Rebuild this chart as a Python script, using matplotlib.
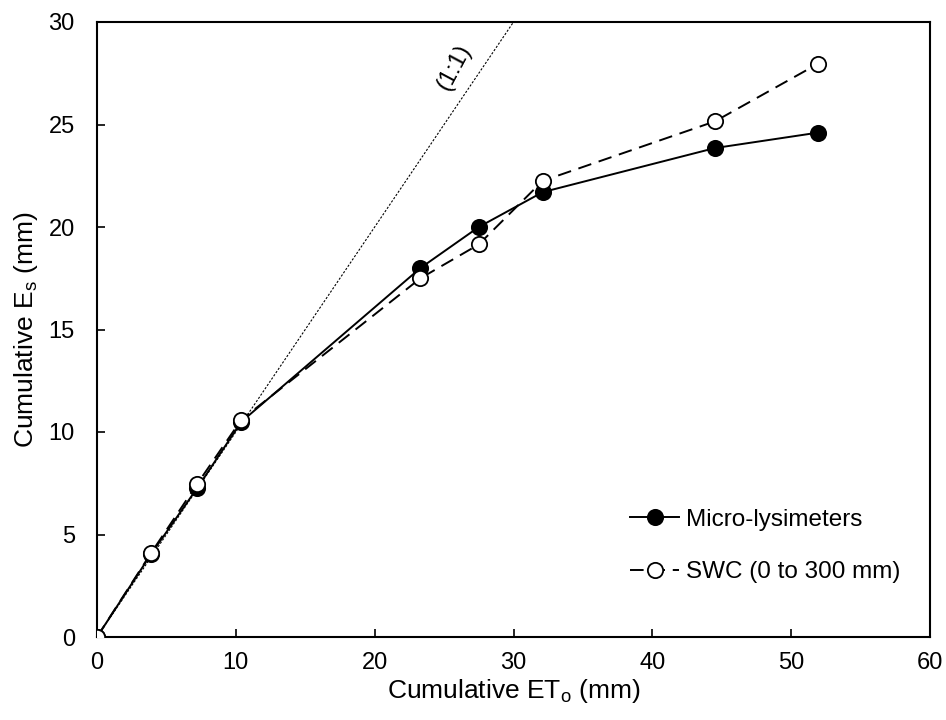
import matplotlib
matplotlib.use("Agg")
import matplotlib.pyplot as plt

plt.rcParams['font.family'] = ['Liberation Sans', 'DejaVu Sans']
plt.rcParams['mathtext.fontset'] = 'custom'
plt.rcParams['mathtext.rm'] = 'Liberation Sans'

eto = [0, 3.9, 7.2, 10.4, 23.3, 27.5, 32.1, 44.5, 51.9]
micro = [0, 4.05, 7.25, 10.5, 18.0, 20.0, 21.7, 23.85, 24.6]
swc = [0, 4.1, 7.45, 10.6, 17.5, 19.15, 22.25, 25.15, 27.95]
one_to_one = [0, 30]

fig = plt.figure(figsize=(9.46, 7.2), dpi=100)
ax = fig.add_axes([97/946, 83/720, (930-97)/946, (637-22)/720])

ax.plot(one_to_one, one_to_one, color='black', lw=0.8, ls=(0, (2, 1.5)), zorder=1)
ax.plot(eto, micro, color='black', lw=1.4, marker='o', ms=11,
        mfc='black', mec='black', mew=1.3, label='Micro-lysimeters', zorder=3)
ax.plot(eto, swc, color='black', lw=1.4, ls=(0, (7, 4)), marker='o', ms=11,
        mfc='white', mec='black', mew=1.3, label='SWC (0 to 300 mm)', zorder=4)

ax.text(25.7, 27.8, '(1:1)', rotation=62, fontsize=17, ha='center', va='center')

ax.set_xlim(0, 60)
ax.set_ylim(0, 30)
ax.set_xticks(range(0, 61, 10))
ax.set_yticks(range(0, 31, 5))
ax.tick_params(direction='in', length=6, width=1.2, labelsize=17)
ax.tick_params(axis='x', pad=11)
ax.tick_params(axis='y', pad=16)
for s in ax.spines.values():
    s.set_linewidth(1.5)
ax.set_xlabel('Cumulative ET$_\\mathregular{o}$ (mm)', fontsize=19, labelpad=2)
ax.set_ylabel('Cumulative E$_\\mathregular{s}$ (mm)', fontsize=19, labelpad=6)

leg = ax.legend(loc='upper left', bbox_to_anchor=(0.614, 0.244), frameon=False,
                fontsize=17.5, handlelength=2.0, labelspacing=1.25, handletextpad=0.3,
                borderpad=0.4)

fig.savefig('out.png', dpi=100)
